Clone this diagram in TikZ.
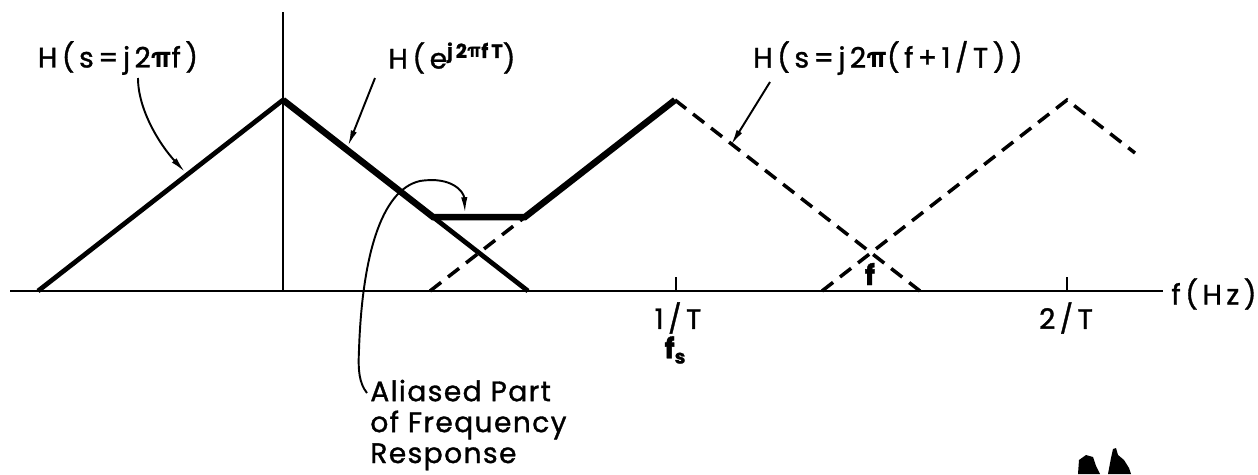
\documentclass[tikz,border=0pt]{standalone}
\usepackage{fontspec}
\setmainfont{TeX Gyre Heros}
\newfontfamily\eqf[LetterSpace=16,FakeBold=1.2]{Poppins}
\newfontfamily\txf[LetterSpace=5,FakeBold=1.2]{Poppins}
\newfontfamily\grk{TeX Gyre Heros}
\newcommand{\mypi}{{\grk\bfseries π}}
\usetikzlibrary{arrows.meta}
\begin{document}
\begin{tikzpicture}[x=0.02cm,y=-0.02cm,
  axisline/.style={line width=1.6pt},
  resp/.style={line width=2.7pt},
  thickresp/.style={line width=3.7pt, line join=miter},
  dashresp/.style={line width=2pt, dash pattern=on 8pt off 5pt},
  pointer/.style={line width=1.1pt, -{Latex[length=9pt,width=3.6pt]}},
  eqlbl/.style={font=\eqf\fontsize{16}{19}\selectfont, inner sep=0pt},
  txlbl/.style={font=\txf\fontsize{16}{17.6}\selectfont, inner sep=0pt, align=left}
]
\useasboundingbox (0,0) rectangle (1258,474);
% key points
\coordinate (ax0) at (10,291);
\coordinate (ax1) at (1163,291);
\coordinate (v0) at (283,12);
\coordinate (v1) at (283,291);
\coordinate (L0) at (38,291);
\coordinate (P0) at (283,100);
\coordinate (R0) at (528,291);
\coordinate (A) at (433,217);
\coordinate (B) at (525,217);
\coordinate (L1) at (430,291);
\coordinate (P1) at (675,100);
\coordinate (R1) at (920,291);
\coordinate (L2) at (822,291);
\coordinate (P2) at (1067,100);
\coordinate (E2) at (1135,153);
\coordinate (t1a) at (676,291);
\coordinate (t1b) at (676,277);
\coordinate (t2a) at (1067,291);
\coordinate (t2b) at (1067,277);
% axes
\draw[axisline] (ax0) -- (ax1);
\draw[axisline] (v0) -- (v1);
\draw[axisline] (t1a) -- (t1b);
\draw[axisline] (t2a) -- (t2b);
% responses
\draw[resp] (L0) -- (P0);
\draw[resp] (A) -- (R0);
\draw[dashresp] (L1) -- (B);
\draw[dashresp] (P1) -- (R1);
\draw[dashresp] (L2) -- (P2) -- (E2);
\draw[thickresp] (P0) -- (A) -- (B) -- (P1);
% labels
\node[eqlbl] (h1) at (118,58) {H(s=j2\mypi f)};
\node[eqlbl] (h2) at (452,58) {H(e\raisebox{6pt}{\fontsize{11}{12}\selectfont\bfseries j2\mypi fT})};
\node[eqlbl] (h3) at (888,58) {H(s=j2\mypi(f+1/T))};
\node[eqlbl] (t1) at (678,318) {1/T};
\node[eqlbl] (fs) at (675,350) {\bfseries f\raisebox{-3pt}{\fontsize{11}{12}\selectfont s}};
\node[eqlbl] (t2) at (1066,318) {2/T};
\node[eqlbl] (fhz) at (1214,294) {f(Hz)};
\node[eqlbl] (fx) at (870,274) {\bfseries f};
\node[txlbl, anchor=base west] (al) at (370,463) {Aliased Part\\of Frequency\\Response};
% pointer coordinates
\coordinate (s1) at (138,78);
\coordinate (e1) at (185,172);
\coordinate (s2) at (375,78);
\coordinate (e2) at (348,146);
\coordinate (s3) at (770,82);
\coordinate (e3) at (731,145);
\coordinate (s4) at (367,393);
\coordinate (e4) at (465,213);
\draw[pointer] (s1) .. controls (138,110) and (160,145) .. (e1);
\draw[pointer] (s2) -- (e2);
\draw[pointer] (s3) -- (e3);
\draw[pointer] (s4) .. controls (359,383) and (358,370) .. (359,350)
  .. controls (362,260) and (380,190) .. (420,181)
  .. controls (452,176) and (464,192) .. (e4);
% scan blot
\fill (1078,474) -- (1079,460) -- (1086,455) -- (1093,457) -- (1096,466) -- (1100,474) -- cycle;
\fill (1108,474) -- (1111,458) -- (1113,449) -- (1116,448) -- (1118,455) -- (1124,460) -- (1129,468) -- (1131,474) -- cycle;
\end{tikzpicture}
\end{document}
